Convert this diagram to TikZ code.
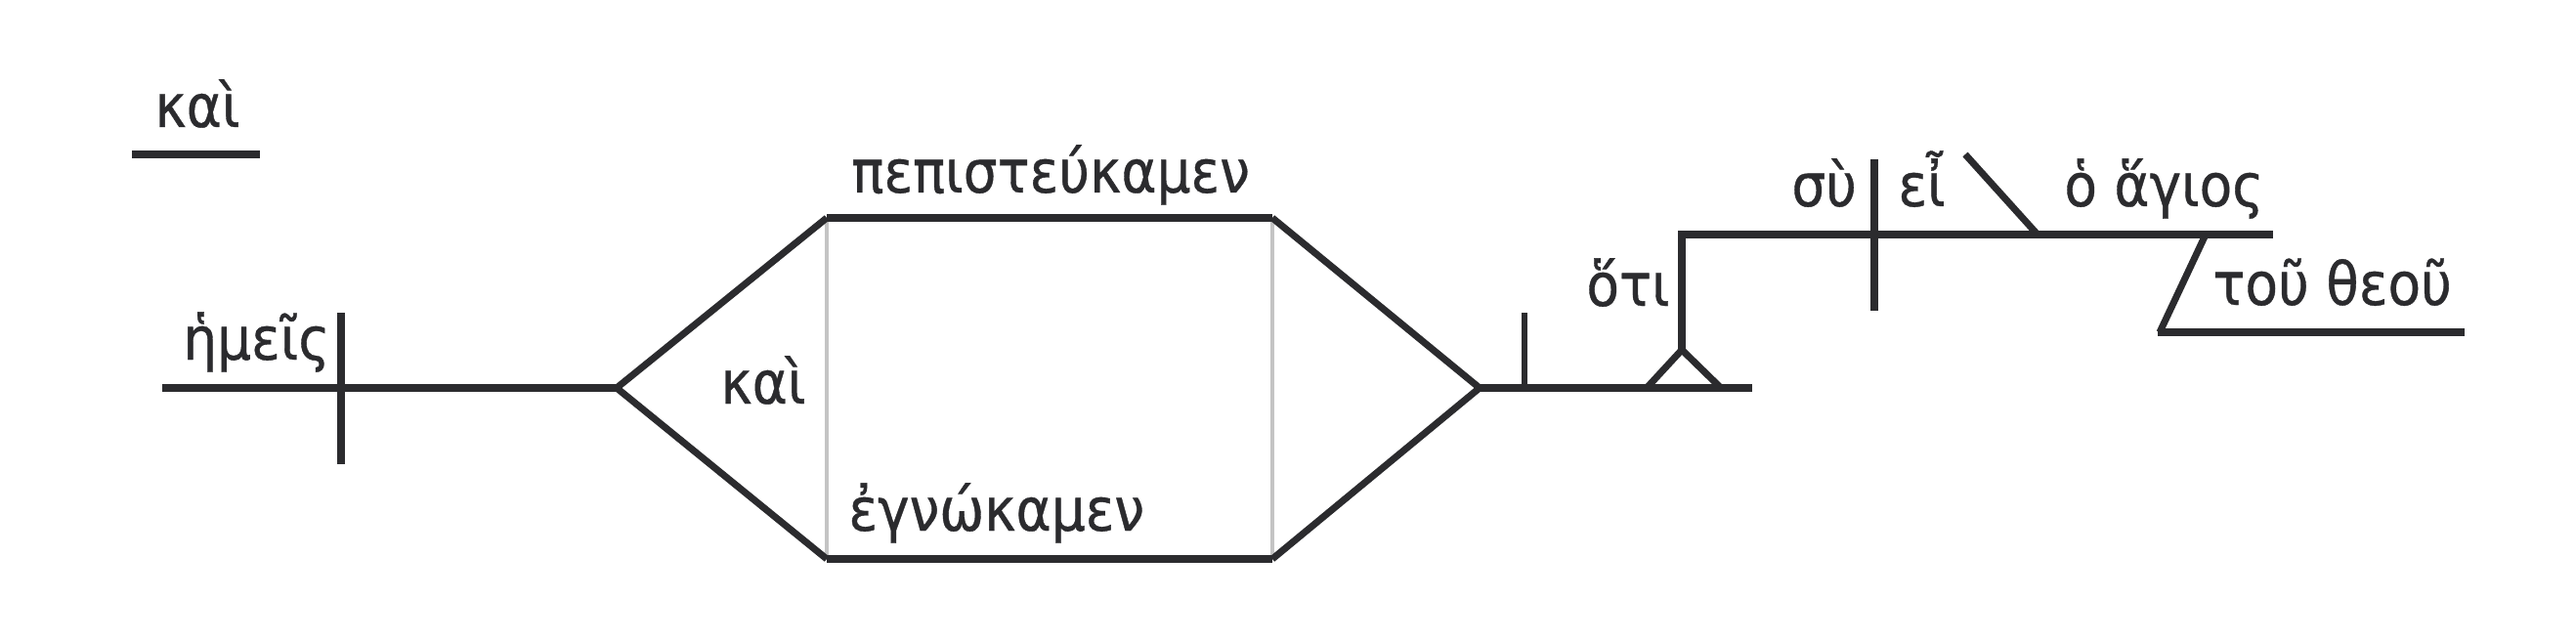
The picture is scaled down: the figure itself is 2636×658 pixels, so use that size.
\documentclass[tikz,border=0pt]{standalone}
\usepackage{fontspec}
\newfontfamily\gk[FakeStretch=0.9,FakeBold=0.6]{DejaVu Sans}
\definecolor{ink}{HTML}{2B2B2E}
\definecolor{rulegray}{HTML}{C4C4C4}
\begin{document}
\begin{tikzpicture}[x=0.5pt,y=-0.5pt,
  ln/.style={draw=ink,line width=4.1pt},
  sl/.style={draw=ink,line width=3.5pt,line join=round},
  gr/.style={draw=rulegray,line width=2pt},
  tk/.style={draw=ink,line width=3.8pt},
  tks/.style={draw=ink,line width=3.2pt},
  wd/.style={inner sep=0pt,anchor=base west,font=\gk\fontsize{30.5}{32}\selectfont,text=ink}]
\useasboundingbox[fill=white] (0,0) rectangle (2636,658);
% coordinates
\coordinate (u1) at (135,158); \coordinate (u2) at (266,158);
\coordinate (m0) at (166,397);
\coordinate (sT) at (349,320); \coordinate (sB) at (349,475);
\coordinate (dL) at (631,397);
\coordinate (dTL) at (846,223); \coordinate (dTR) at (1302,223);
\coordinate (dBL) at (846,572); \coordinate (dBR) at (1302,572);
\coordinate (dR) at (1514,397);
\coordinate (oT) at (1560,320); \coordinate (oB) at (1560,397);
\coordinate (tL) at (1685,397); \coordinate (tA) at (1721,358); \coordinate (tR) at (1761,397);
\coordinate (mE) at (1793,397);
\coordinate (cC) at (1721,240); \coordinate (cE) at (2326,240);
\coordinate (vT) at (1918,163); \coordinate (vB) at (1918,318);
\coordinate (pT) at (2011,158); \coordinate (pB) at (2085,240);
\coordinate (gT) at (2257,240); \coordinate (gB) at (2210,340); \coordinate (gE) at (2522,340);
% lines
\draw[ln] (u1) -- (u2);
\draw[ln] (m0) -- (dL);
\draw[tk] (sT) -- (sB);
\draw[gr] (dTL) -- (dBL);
\draw[gr] (dTR) -- (dBR);
\draw[sl] (dL) -- (dTL);
\draw[sl] (dL) -- (dBL);
\draw[sl] (dTR) -- (dR);
\draw[sl] (dBR) -- (dR);
\draw[ln] (dTL) -- (dTR);
\draw[ln] (dBL) -- (dBR);
\draw[ln] (dR) -- (mE);
\draw[tks] (oT) -- (oB);
\draw[sl] (tL) -- (tA) -- (tR);
\draw[tk] (tA) -- ([yshift=-1.9pt]cC);
\draw[ln] ([xshift=-1.9pt]cC) -- (cE);
\draw[tk] (vT) -- (vB);
\draw[sl] (pT) -- (pB);
\draw[sl] (gT) -- (gB);
\draw[ln] ([xshift=-0.9pt]gB) -- (gE);
% words
\node[wd] (w1) at (158,130) {καὶ};
\node[wd] (w2) at (187,368) {ἡμεῖς};
\node[wd] (w3) at (737,413) {καὶ};
\node[wd] (w4) at (871,197) {πεπιστεύκαμεν};
\node[wd] (w5) at (868,543) {ἐγνώκαμεν};
\node[wd] (w6) at (1623,313) {ὅτι};
\node[wd] (w7) at (1833,211) {σὺ};
\node[wd] (w8) at (1942,211) {εἶ};
\node[wd] (w9) at (2112,211) {ὁ ἅγιος};
\node[wd] (w10) at (2264,312) {τοῦ θεοῦ};
\end{tikzpicture}
\end{document}
